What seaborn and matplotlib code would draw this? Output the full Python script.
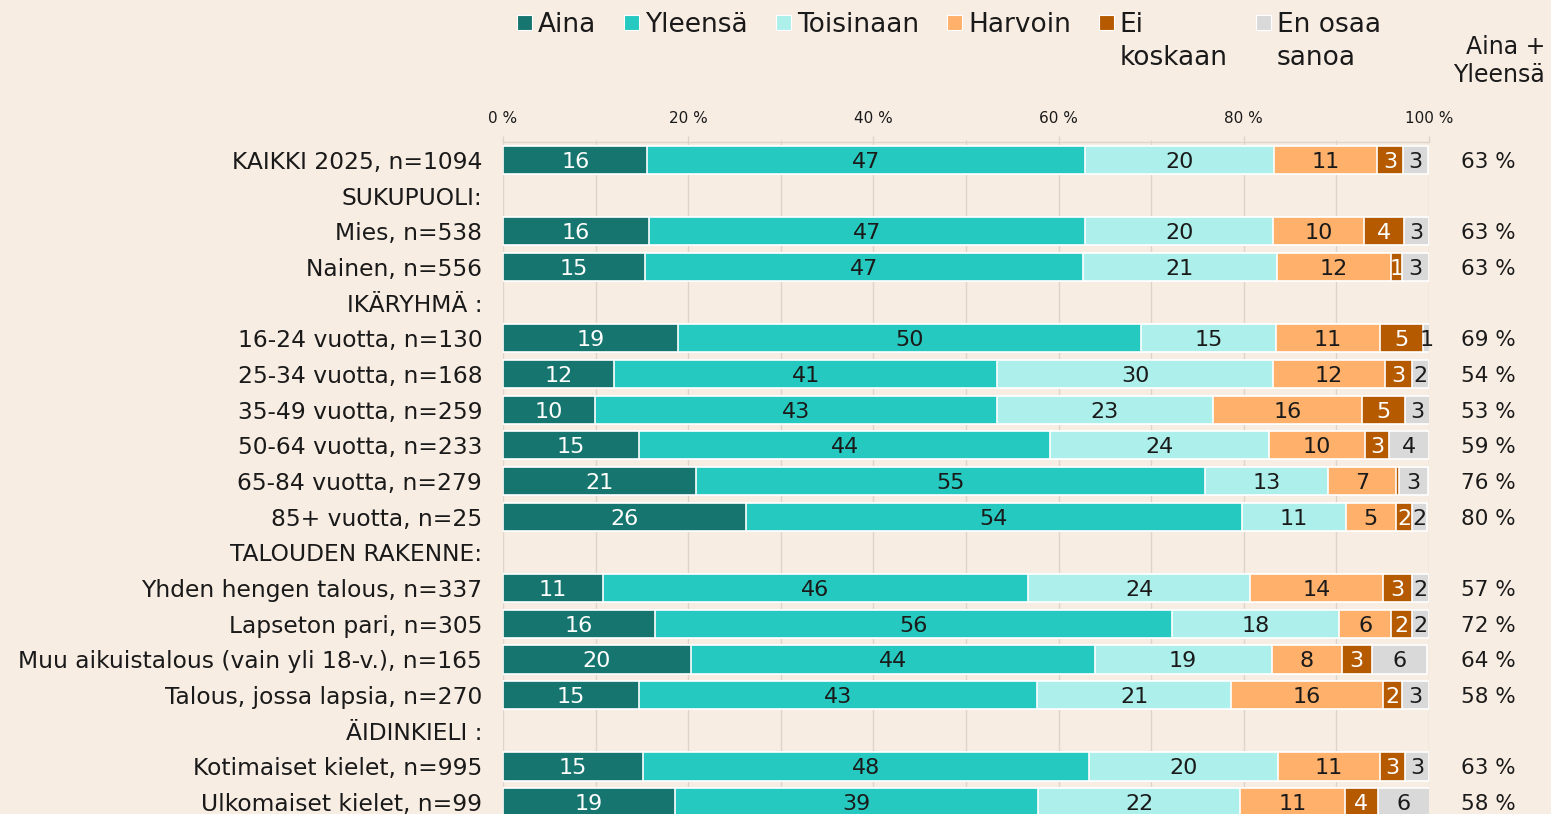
import numpy as np
import pandas as pd
import matplotlib
matplotlib.use("Agg")
import matplotlib.pyplot as plt
import matplotlib.patches as mpatches
import matplotlib.transforms as mtransforms
import seaborn as sns

# ---------------- data ----------------
categories = [
    "KAIKKI 2025, n=1094", "SUKUPUOLI:", "Mies, n=538", "Nainen, n=556",
    "IKÄRYHMÄ :", "16-24 vuotta, n=130", "25-34 vuotta, n=168", "35-49 vuotta, n=259",
    "50-64 vuotta, n=233", "65-84 vuotta, n=279", "85+ vuotta, n=25",
    "TALOUDEN RAKENNE:", "Yhden hengen talous, n=337", "Lapseton pari, n=305",
    "Muu aikuistalous (vain yli 18-v.), n=165", "Talous, jossa lapsia, n=270",
    "ÄIDINKIELI :", "Kotimaiset kielet, n=995", "Ulkomaiset kielet, n=99",
]
series_names = ["Aina", "Yleensä", "Toisinaan", "Harvoin", "Ei\nkoskaan", "En osaa\nsanoa"]
nan = np.nan
aina      = [15.6, nan, 15.8, 15.3, nan, 18.9, 12.0,  9.9, 14.7, 20.8, 26.2, nan, 10.8, 16.4, 20.3, 14.7, nan, 15.1, 18.6]
yleensa   = [47.3, nan, 47.1, 47.3, nan, 50.0, 41.4, 43.4, 44.4, 55.0, 53.6, nan, 45.9, 55.8, 43.6, 43.0, nan, 48.2, 39.2]
toisinaan = [20.4, nan, 20.3, 21.0, nan, 14.6, 29.8, 23.4, 23.6, 13.3, 11.2, nan, 24.0, 18.1, 19.1, 20.9, nan, 20.4, 21.8]
harvoin   = [11.1, nan,  9.8, 12.3, nan, 11.2, 12.0, 16.1, 10.4,  7.3,  5.4, nan, 14.3,  5.6,  7.6, 16.4, nan, 11.0, 11.3]
ei_koskaan= [ 2.8, nan,  4.3,  1.2, nan,  4.6,  3.0,  4.6,  2.6,  0.4,  1.8, nan,  3.2,  2.3,  3.2,  2.1, nan,  2.7,  3.6]
en_osaa   = [ 2.7, nan,  2.7,  2.9, nan,  0.9,  1.8,  2.7,  4.3,  3.1,  1.6, nan,  1.8,  1.8,  6.0,  2.9, nan,  2.6,  5.6]
aina_yleensa = ["63 %", "", "63 %", "63 %", "", "69 %", "54 %", "53 %", "59 %", "76 %", "80 %", "",
                "57 %", "72 %", "64 %", "58 %", "", "63 %", "58 %"]
tick_values = [0, 20, 40, 60, 80, 100]
tick_labels = ["0 %", "20 %", "40 %", "60 %", "80 %", "100 %"]

colors = ["#16756E", "#25C9BF", "#ADF0EB", "#FFB06A", "#B65A00", "#D9D9D9"]
label_colors = ["white", "#1a1a1a", "#1a1a1a", "#1a1a1a", "white", "#1a1a1a"]
bg = "#F8EDE3"
grid_c = "#DDD5CC"
txt_c = "#1a1a1a"

series = [aina, yleensa, toisinaan, harvoin, ei_koskaan, en_osaa]
vals = np.array(series, dtype=float)  # shape (6, n)
cum = np.cumsum(vals, axis=0)

sns.set_theme(style="white")
plt.rcParams["font.family"] = ["DejaVu Sans"]

W, H = 1551, 814
fig = plt.figure(figsize=(W / 100, H / 100), dpi=100, facecolor=bg)
ax = fig.add_axes([503 / W, 1 - 820 / H, (1429 - 503) / W, (820 - 142) / H])
ax.set_facecolor(bg)

# stacked bars via overlaid cumulative layers (largest first)
for i in range(5, -1, -1):
    df = pd.DataFrame({"cat": categories, "val": cum[i]})
    sns.barplot(data=df, x="val", y="cat", order=categories, orient="h",
                color=colors[i], saturation=1, width=0.79, errorbar=None,
                edgecolor="white", linewidth=1.2, ax=ax)

ax.set_xlim(0, 100)
ax.set_ylim(18.5, -0.5)
ax.set_xlabel("")
ax.set_ylabel("")

# value labels (round half up)
for i in range(6):
    for j in range(len(categories)):
        v = vals[i, j]
        if np.isnan(v):
            continue
        r = int(np.floor(v + 0.5))
        if r < 1:
            continue
        xc = cum[i, j] - v / 2
        ax.text(xc, j, f"{r:d}", ha="center", va="center_baseline",
                fontsize=16, color=label_colors[i])

# axes styling
ax.xaxis.tick_top()
ax.set_xticks(tick_values)
ax.set_xticklabels(tick_labels, fontsize=11, color=txt_c)
ax.set_xticks(np.arange(10, 100, 20), minor=True)
ax.tick_params(axis="x", which="major", length=4.5, width=1, color=grid_c, pad=7, top=True)
ax.tick_params(axis="x", which="minor", length=1.5, width=1, color=grid_c, top=True)
ax.grid(True, axis="x", which="both", color=grid_c, linewidth=1)
ax.set_axisbelow(True)
ax.tick_params(axis="y", length=0, pad=15, labelsize=16.8, labelcolor=txt_c)
for s in ["left", "right", "bottom"]:
    ax.spines[s].set_visible(False)
ax.spines["top"].set_color(grid_c)
ax.spines["top"].set_linewidth(1)

# right column: Aina + Yleensä
trans = mtransforms.blended_transform_factory(fig.transFigure, ax.transData)
for j, s in enumerate(aina_yleensa):
    if s:
        ax.text(1488 / W, j, s, transform=trans, ha="center", va="center_baseline",
                fontsize=15.5, color=txt_c, clip_on=False)
for k, line in enumerate(["Aina +", "Yleensä"]):
    fig.text(1545 / W, 1 - (54 + 28 * k) / H, line, ha="right", va="baseline",
             fontsize=17, color=txt_c)

# legend (manual, first lines aligned)
renderer = fig.canvas.get_renderer()
x = 517
sq = 15
for name, c in zip(series_names, colors):
    fig.add_artist(mpatches.Rectangle((x / W, 1 - 30 / H), sq / W, sq / H,
                                      transform=fig.transFigure, facecolor=c,
                                      edgecolor="white", linewidth=0.8))
    x1 = x
    for k, line in enumerate(name.split("\n")):
        t = fig.text((x + sq + 6) / W, 1 - (32 + 33 * k) / H, line, ha="left",
                     va="baseline", fontsize=19, color=txt_c)
        x1 = max(x1, t.get_window_extent(renderer=renderer).x1)
    x = x1 + 28

fig.savefig("out.png", dpi=100, facecolor=bg)
